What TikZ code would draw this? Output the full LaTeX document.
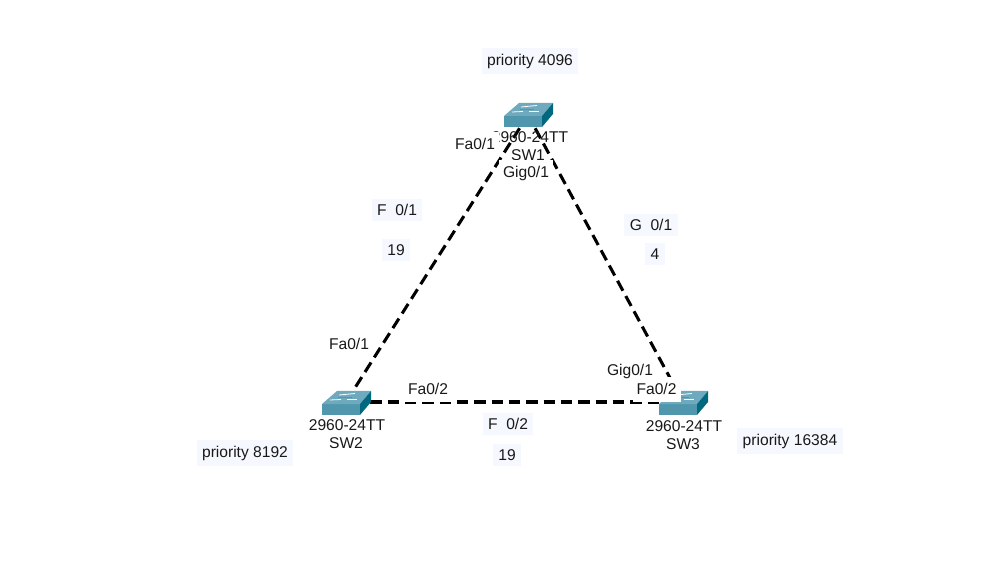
\documentclass[tikz,border=0pt]{standalone}
\usepackage{fontspec}
\setmainfont{Liberation Sans}
\definecolor{tagbg}{HTML}{F6F8FF}
\definecolor{swtop}{HTML}{6FA9BD}
\definecolor{swfront}{HTML}{5097AE}
\definecolor{swside}{HTML}{00697F}
\tikzset{
  lbl/.style={fill=white,inner xsep=3pt,inner ysep=0pt,text height=13.5pt,text depth=5.25pt,font=\fontsize{11.7pt}{13pt}\selectfont,text=black!90},
  tag/.style={fill=tagbg,inner xsep=4pt,inner ysep=4pt,font=\fontsize{11.7pt}{13pt}\selectfont,text=black!90},
  devname/.style={inner sep=0pt,font=\fontsize{11.7pt}{13pt}\selectfont,text=black!90},
  swanchor/.style={inner sep=0pt,minimum width=36pt,minimum height=19.5pt},
  link/.style={line width=2.3pt,dash pattern=on 8.5pt off 4.5pt,draw=black},
  swmark/.style={draw=white,line width=.6pt},
  switchicon/.pic={
    \fill[swfront] (-24,1) -- (14,1) -- (14,12) -- (-24,12) -- cycle;
    \fill[swtop] (-24,1) -- (-9,-12) -- (25,-12) -- (14,1) -- cycle;
    \fill[swside] (14,1) -- (25,-12) -- (25,-1) -- (14,12) -- cycle;
    \draw[swmark] (-7,-8) -- (9,-9.5);
    \draw[swmark] (-16,-3) -- (-5,-3.5);
    \draw[swmark] (1,-3.5) -- (11,-3.5);
    \draw[swmark,draw=swfront] (-8,-6) -- (6,-6);
  }
}
\begin{document}
\begin{tikzpicture}[x=.75pt,y=-.75pt]
\useasboundingbox (0,0) rectangle (992,584);
\fill[white] (0,0) rectangle (992,584);
% switch anchors
\node[swanchor] (sw1) at (528,115) {};
\node[swanchor] (sw2) at (346,402) {};
\node[swanchor] (sw3) at (683,402) {};
% links
\draw[link] (sw1) -- (sw2);
\draw[link] (sw1) -- (sw3);
\draw[link] (sw2) -- (sw3);
% switch icons
\pic at (528,115) {switchicon};
\pic at (346,403) {switchicon};
\pic at (683,403) {switchicon};
% device names
\node[devname] (n1) at (530,137) {2960-24TT};
\node[devname] (s1) at (528,155) {SW1};
\node[devname] (n2) at (347,425) {2960-24TT};
\node[devname] (s2) at (346,443) {SW2};
\node[devname] (n3) at (684,426) {2960-24TT};
\node[devname] (s3) at (683,444) {SW3};
% interface labels
\node[lbl] (a1) at (475,144.5) {Fa0/1};
\node[lbl] (a2) at (526,172.5) {Gig0/1};
\node[lbl] (a3) at (349,344.5) {Fa0/1};
\node[lbl] (a4) at (428,389) {Fa0/2};
\node[lbl] (a5) at (630,370.5) {Gig0/1};
\node[lbl,minimum width=36pt] (a6) at (656.5,389.5) {Fa0/2};
% annotations
\node[tag] (t1) at (530,61) {priority 4096};
\node[tag] (t2) at (245,453) {priority 8192};
\node[tag] (t3) at (790,441) {priority 16384};
\node[tag] (c1) at (397,210) {F\ \ 0/1};
\node[tag] (c2) at (396,250) {19};
\node[tag] (c3) at (651,225) {G\ \ 0/1};
\node[tag] (c4) at (655,254) {4};
\node[tag] (c5) at (508,424) {F\ \ 0/2};
\node[tag] (c6) at (507,455) {19};
\end{tikzpicture}
\end{document}
